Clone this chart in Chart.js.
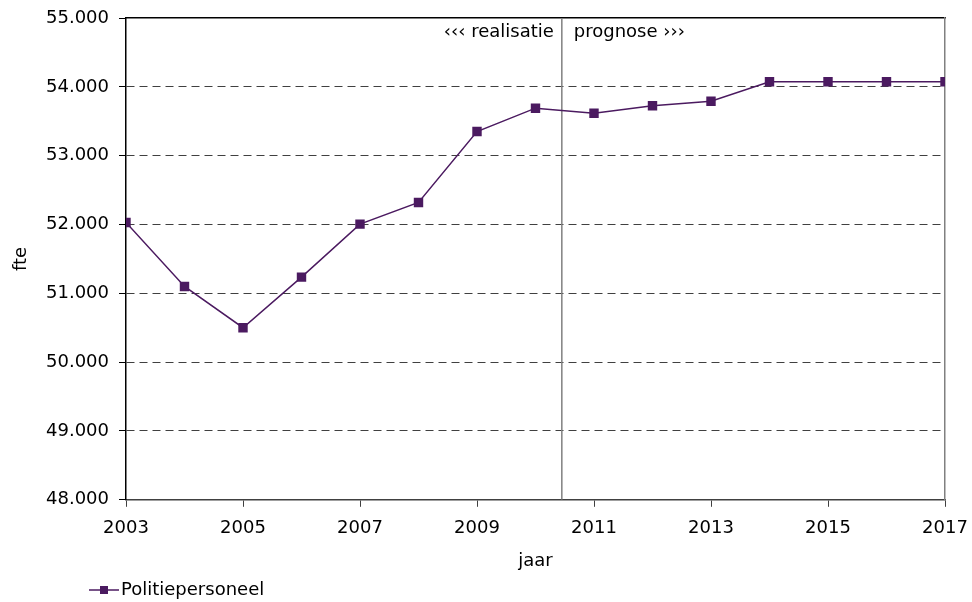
<!DOCTYPE html>
<html lang="nl">
<head>
<meta charset="UTF-8">
<title>Politiepersoneel</title>
<script src="https://cdn.jsdelivr.net/npm/chart.js"></script>
<style>
  html, body { margin: 0; padding: 0; background: #fff; }
  canvas { display: block; }
</style>
</head>
<body>
<canvas id="chart" width="972" height="602"></canvas>
<script>
  // data
  const years = [2003, 2004, 2005, 2006, 2007, 2008, 2009, 2010, 2011, 2012, 2013, 2014, 2015, 2016, 2017];
  const fte = [52030, 51100, 50500, 51235, 52005, 52320, 53350, 53690, 53615, 53725, 53790, 54075, 54075, 54075, 54075];
  const yearTicks = [2003, 2005, 2007, 2009, 2011, 2013, 2015, 2017];
  const fteTicks = [48000, 49000, 50000, 51000, 52000, 53000, 54000, 55000];
  const seriesName = 'Politiepersoneel';
  const splitYear = 2010.45;

  const purple = '#4B1A60';
  const font = { family: '"DejaVu Sans", Verdana, sans-serif', size: 18 };

  function fmt(v) {
    return String(v).replace(/\B(?=(\d{3})+(?!\d))/g, '.');
  }

  // legend symbol: line with square marker
  const legendIcon = document.createElement('canvas');
  legendIcon.width = 34;
  legendIcon.height = 10;
  (function () {
    const c = legendIcon.getContext('2d');
    c.strokeStyle = purple;
    c.lineWidth = 1.5;
    c.beginPath();
    c.moveTo(4, 5);
    c.lineTo(34, 5);
    c.stroke();
    c.fillStyle = purple;
    c.fillRect(15, 1, 8, 8);
  })();

  // labels either side of the realisatie / prognose split
  const phaseLabels = {
    id: 'phaseLabels',
    afterDatasetsDraw(chart) {
      const { ctx, chartArea, scales } = chart;
      const px = scales.x.getPixelForValue(splitYear);
      ctx.save();
      ctx.font = '18px "DejaVu Sans", Verdana, sans-serif';
      ctx.fillStyle = '#000';
      ctx.textBaseline = 'middle';
      ctx.textAlign = 'right';
      ctx.fillText('\u2039\u2039\u2039 realisatie', px - 8, chartArea.top + 14);
      ctx.textAlign = 'left';
      ctx.fillText('prognose \u203A\u203A\u203A', px + 12, chartArea.top + 14);
      ctx.restore();
    }
  };

  // put the legend under the y axis like the original
  const legendShift = {
    id: 'legendShift',
    afterLayout(chart) {
      const lg = chart.legend;
      const dx = 89 - lg.left;
      lg.left += dx;
      lg.right += dx;
      lg.top += 6;
      lg.bottom += 6;
    }
  };

  new Chart(document.getElementById('chart'), {
    type: 'line',
    data: {
      datasets: [{
        label: seriesName,
        data: years.map((y, i) => ({ x: y, y: fte[i] })),
        borderColor: purple,
        backgroundColor: purple,
        borderWidth: 1.5,
        pointStyle: 'rect',
        pointRadius: 5.6,
        pointHoverRadius: 5.6,
        tension: 0
      }, {
        label: 'split',
        data: [{ x: splitYear, y: fteTicks[0] }, { x: splitYear, y: fteTicks[fteTicks.length - 1] }],
        borderColor: '#808080',
        borderWidth: 1.5,
        pointRadius: 0
      }]
    },
    options: {
      responsive: false,
      animation: false,
      layout: { padding: { left: 8, right: 0, top: 0, bottom: -1 } },
      plugins: {
        tooltip: { enabled: false },
        legend: {
          position: 'bottom',
          align: 'start',
          labels: {
            usePointStyle: true,
            pointStyle: legendIcon,
            pointStyleWidth: 20,
            padding: 3,
            color: '#000',
            font: font,
            filter: item => item.datasetIndex === 0
          }
        }
      },
      scales: {
        x: {
          type: 'linear',
          min: years[0],
          max: years[years.length - 1],
          afterBuildTicks: s => { s.ticks = yearTicks.map(v => ({ value: v })); },
          afterFit: s => { s.paddingRight = 27; },
          ticks: { color: '#000', font: font, padding: 11, maxRotation: 0, callback: v => String(v) },
          grid: { drawOnChartArea: false, tickLength: 7, tickColor: '#404040', tickWidth: 1 },
          border: { color: '#404040', width: 1.5 },
          title: { display: true, text: 'jaar', color: '#000', font: font, padding: { top: 0, bottom: 0 } }
        },
        xTop: {
          type: 'linear',
          position: 'top',
          min: years[0],
          max: years[years.length - 1],
          ticks: { display: false },
          grid: { drawOnChartArea: false, drawTicks: false },
          border: { color: '#000', width: 1.5 },
          afterFit: s => { s.height = 0; }
        },
        y: {
          min: fteTicks[0],
          max: fteTicks[fteTicks.length - 1],
          afterBuildTicks: s => { s.ticks = fteTicks.map(v => ({ value: v })); },
          afterFit: s => { s.width = 118; s.paddingTop = 18; },
          ticks: { color: '#000', font: font, padding: 10, callback: v => fmt(v) },
          grid: {
            color: c => (c.tick && (c.tick.value === fteTicks[0] || c.tick.value === fteTicks[fteTicks.length - 1])) ? 'rgba(0,0,0,0)' : '#404040',
            tickColor: '#000',
            tickLength: 7,
            lineWidth: 1
          },
          border: { color: '#000', width: 1.5, dash: [8, 5] },
          title: { display: true, text: 'fte', color: '#000', font: font, padding: { top: 3, bottom: 13 } }
        },
        yRight: {
          position: 'right',
          min: 0,
          max: 1,
          ticks: { display: false },
          grid: { drawOnChartArea: false, drawTicks: false },
          border: { color: '#808080', width: 1.5 },
          afterFit: s => { s.width = 0; }
        }
      }
    },
    plugins: [phaseLabels, legendShift]
  });
</script>
</body>
</html>
